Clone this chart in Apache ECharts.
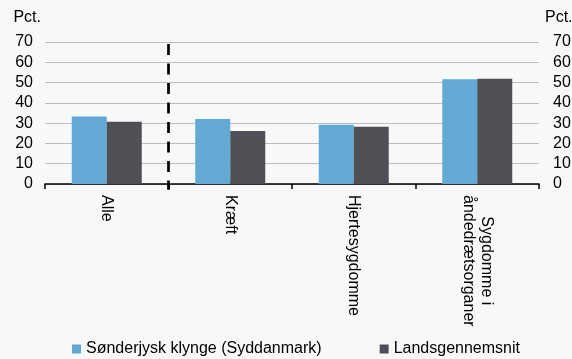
<!DOCTYPE html>
<html>
<head>
<meta charset="utf-8">
<script src="https://cdn.jsdelivr.net/npm/echarts@6/dist/echarts.min.js"></script>
<style>
html,body{margin:0;padding:0;background:#f7f8f8;}
#chart{width:572px;height:359px;}
</style>
</head>
<body>
<div id="chart"></div>
<script>
var categories = ['Alle', 'Kræft', 'Hjertesygdomme', 'Sygdomme i\nåndedrætsorganer'];
var seriesNames = ['Sønderjysk klynge (Syddanmark)', 'Landsgennemsnit'];
var sonderjysk = [33.3, 32.1, 29.2, 51.6];
var landsgennemsnit = [30.7, 26.1, 28.2, 51.9];
var yTicks = [0, 10, 20, 30, 40, 50, 60, 70];
var dividerPos = 1; // boundary between 'Alle' and 'Kræft'
var dividerSpan = [69, -2.8];

var FONT = '"Liberation Sans", Arial, sans-serif';
var FS = 16;
var chart = echarts.init(document.getElementById('chart'), null, {renderer: 'canvas'});
var yAxisCommon = {
  type: 'value', min: yTicks[0], max: yTicks[yTicks.length - 1], interval: yTicks[1] - yTicks[0],
  axisLine: {show: false}, axisTick: {show: false},
  name: 'Pct.', nameLocation: 'end', nameGap: 24,
  splitLine: {lineStyle: {color: '#bdbdbd', width: 1}}
};
chart.setOption({
  backgroundColor: '#f7f8f8',
  animation: false,
  textStyle: {fontFamily: FONT},
  grid: {left: 45, right: 33, top: 42, bottom: 175, containLabel: false, outerBoundsMode: 'none'},
  legend: {
    left: 72, top: 341, itemWidth: 9, itemHeight: 9, itemGap: 58, itemTextGap: 3, padding: 0,
    icon: 'rect',
    textStyle: {fontSize: FS, color: '#000', fontFamily: FONT},
    data: seriesNames
  },
  xAxis: [{
    type: 'category', data: categories,
    axisLine: {lineStyle: {color: '#000', width: 1.5}},
    axisTick: {show: true, length: 5, lineStyle: {color: '#000', width: 1.5}},
    axisLabel: {
      rotate: -90, margin: 11, interval: 0, color: '#000', fontSize: FS, fontFamily: FONT,
      formatter: function (v) {
        return v.split('\n').map(function (s) { return '{c|' + s + '}'; }).join('\n');
      },
      rich: {c: {align: 'center', fontSize: FS, lineHeight: 18, fontFamily: FONT, color: '#000'}}
    }
  }, {
    type: 'value', min: 0, max: categories.length, show: false
  }],
  yAxis: [
    Object.assign({}, yAxisCommon, {position: 'left',
      axisLabel: {fontSize: FS, color: '#000', fontFamily: FONT, margin: 12},
      nameTextStyle: {align: 'right', verticalAlign: 'middle', fontSize: FS, color: '#000', fontFamily: FONT, padding: [0, 4, 0, 0]}}),
    Object.assign({}, yAxisCommon, {position: 'right', splitLine: {show: false},
      axisLabel: {fontSize: FS, color: '#000', fontFamily: FONT, margin: 14},
      nameTextStyle: {align: 'left', verticalAlign: 'middle', fontSize: FS, color: '#000', fontFamily: FONT, padding: [0, 0, 0, 6]}})
  ],
  series: [{
    name: seriesNames[0], type: 'bar', data: sonderjysk, barWidth: 35, barGap: '0%',
    itemStyle: {color: '#63a9d5'}
  }, {
    name: seriesNames[1], type: 'bar', data: landsgennemsnit, barWidth: 35, barGap: '0%',
    itemStyle: {color: '#4f5055'}
  }, {
    type: 'custom', xAxisIndex: 1, yAxisIndex: 0, silent: true, clip: false, z: 5,
    data: [[dividerPos, dividerSpan[0], dividerSpan[1]]],
    renderItem: function (params, api) {
      var p1 = api.coord([api.value(0), api.value(1)]);
      var p2 = api.coord([api.value(0), api.value(2)]);
      return {
        type: 'line',
        shape: {x1: p1[0], y1: p1[1], x2: p2[0], y2: p2[1]},
        style: {stroke: '#000', lineWidth: 2.7, lineDash: [11, 8.5]}
      };
    }
  }]
});
</script>
</body>
</html>
